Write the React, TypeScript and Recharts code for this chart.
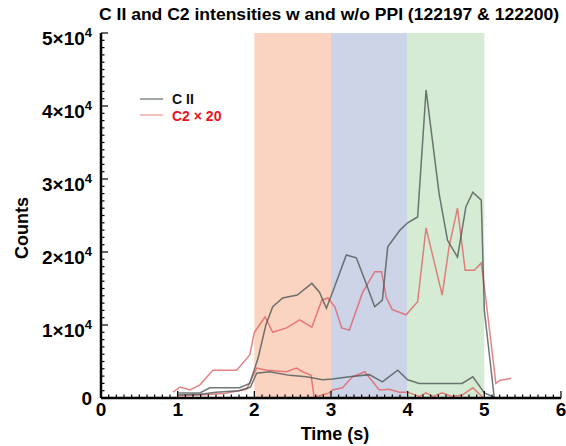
import React from 'react';
import { LineChart, Line, XAxis, YAxis, ReferenceArea, Customized } from 'recharts';

// ---- Data ----
const CII_A_T = [1.0, 1.29, 1.42, 1.81, 1.94, 2.05, 2.15, 2.24, 2.37, 2.56, 2.75, 2.85, 2.94, 3.02, 3.2, 3.33, 3.44, 3.57, 3.67, 3.74, 3.9, 4.0, 4.13, 4.24, 4.41, 4.52, 4.65, 4.76, 4.85, 4.96, 5.0, 5.13];
const CII_A_V = [700, 700, 1400, 1400, 2000, 5500, 10000, 12500, 13700, 14100, 15700, 14500, 12300, 14500, 19600, 19200, 16200, 12500, 13400, 20700, 23000, 24000, 24800, 42200, 28000, 21600, 19300, 26200, 28200, 27100, 12000, 0];

const CII_B_T = [1.0, 1.3, 1.5, 1.8, 1.95, 2.03, 2.2, 2.46, 2.68, 2.89, 3.02, 3.24, 3.5, 3.67, 3.87, 4.0, 4.15, 4.41, 4.71, 4.85, 5.0, 5.15];
const CII_B_V = [400, 500, 800, 1000, 1500, 3400, 3600, 3100, 2900, 2500, 2600, 2900, 3200, 2200, 3800, 2500, 2000, 2000, 2000, 2900, 700, 0];

const C2_A_T = [0.94, 1.03, 1.16, 1.29, 1.46, 1.77, 1.94, 2.0, 2.14, 2.24, 2.42, 2.59, 2.75, 2.88, 2.96, 3.05, 3.14, 3.24, 3.41, 3.57, 3.66, 3.72, 3.8, 3.98, 4.13, 4.24, 4.45, 4.54, 4.65, 4.75, 4.87, 4.96, 5.01, 5.15, 5.2, 5.35];
const C2_A_V = [800, 1500, 1100, 1800, 3800, 3800, 5900, 9000, 11100, 9000, 9600, 10700, 9700, 13400, 13700, 12500, 9600, 9300, 14400, 17300, 17300, 13800, 12100, 11400, 13200, 23300, 14100, 20700, 26000, 17500, 17500, 18500, 14400, 2000, 2400, 2700];

const C2_B_T = [1.0, 1.3, 1.6, 1.9, 2.03, 2.16, 2.42, 2.55, 2.63, 2.74, 2.78, 2.98, 3.02, 3.15, 3.28, 3.44, 3.63, 3.76, 3.89, 4.0, 4.15, 4.24, 4.33, 4.45, 4.58, 4.71, 4.85, 4.98];
const C2_B_V = [300, 400, 600, 1200, 4100, 3800, 3600, 4100, 3600, 3100, 100, 700, 1100, 1400, 2900, 3600, 1100, 1200, 800, 800, 200, 700, 200, 700, 200, 400, 1400, 100];

const X_MAJOR = [0, 1, 2, 3, 4, 5, 6];
const Y_MAJOR = [0, 10000, 20000, 30000, 40000, 50000];
const Y_LABEL_MANTISSA = ['0', '1', '2', '3', '4', '5'];
const PHASES = [
  { x1: 2, x2: 3, fill: '#fbd3c1' },
  { x1: 3, x2: 4, fill: '#cdd4e7' },
  { x1: 4, x2: 5, fill: '#d6ebd4' },
];

const TITLE = 'C II and C2 intensities w and w/o PPI (122197 & 122200)';

// ---- helpers ----
const zip = (t: number[], v: number[]) => t.map((tt, i) => ({ t: tt, v: v[i] }));
const X_TICKS: number[] = [];
for (let i = 0; i <= 60; i++) X_TICKS.push(i / 10);
const Y_TICKS: number[] = [];
for (let i = 0; i <= 50; i++) Y_TICKS.push(i * 1000);

const FONT = "'Liberation Sans Narrow', 'Arial Narrow', 'Liberation Sans', Arial, sans-serif";
const GRAY = '#4d5555';
const RED = '#e05a5c';

const isMajorX = (v: number) => X_MAJOR.some((m) => Math.abs(m - v) < 1e-6);
const isMajorY = (v: number) => Y_MAJOR.indexOf(v) >= 0;

const BottomTick = (props: any) => {
  const { x, y, payload } = props;
  const major = isMajorX(payload.value);
  return (
    <g>
      <line x1={x} x2={x} y1={y} y2={y - (major ? 7 : 3.5)} stroke="#000" strokeWidth={1.2} />
      {major && (
        <text x={x} y={y + 18} textAnchor="middle" fontFamily={FONT} fontWeight="bold" fontSize={19} fill="#000">
          {Math.round(payload.value)}
        </text>
      )}
    </g>
  );
};

const TopTick = (props: any) => {
  const { x, y, payload } = props;
  const major = isMajorX(payload.value);
  return <line x1={x} x2={x} y1={y} y2={y + (major ? 7 : 3.5)} stroke="#000" strokeWidth={1.2} />;
};

const LeftTick = (props: any) => {
  const { x, y, payload } = props;
  const major = isMajorY(payload.value);
  const idx = Y_MAJOR.indexOf(payload.value);
  return (
    <g>
      <line x1={x} x2={x + (major ? 7 : 3.5)} y1={y} y2={y} stroke="#000" strokeWidth={1.2} />
      {major && idx === 0 && (
        <text x={x - 9} y={y + 7} textAnchor="end" fontFamily={FONT} fontWeight="bold" fontSize={19} fill="#000">0</text>
      )}
      {major && idx > 0 && (
        <text x={x - 9} y={y + 12} textAnchor="end" fontFamily={FONT} fontWeight="bold" fontSize={19} fill="#000">
          {Y_LABEL_MANTISSA[idx]}×10
          <tspan dy={-8} fontSize={13}>4</tspan>
        </text>
      )}
    </g>
  );
};

const RightTick = (props: any) => {
  const { x, y, payload } = props;
  const major = isMajorY(payload.value);
  return <line x1={x} x2={x - (major ? 7 : 3.5)} y1={y} y2={y} stroke="#000" strokeWidth={1.2} />;
};

const Decorations = () => (
  <g>
    <text x={329} y={20} textAnchor="middle" fontFamily={FONT} fontWeight="bold" fontSize={17} fill="#000" textLength={460} lengthAdjust="spacingAndGlyphs">
      {TITLE}
    </text>
    <text x={335} y={440} textAnchor="middle" fontFamily={FONT} fontWeight="bold" fontSize={18} fill="#000">Time (s)</text>
    <text x={28} y={228} textAnchor="middle" fontFamily={FONT} fontWeight="bold" fontSize={18} fill="#000" transform="rotate(-90 28 228)">Counts</text>
    <line x1={140} x2={163} y1={99} y2={99} stroke={GRAY} strokeOpacity={0.7} strokeWidth={1.5} />
    <text x={172} y={104} fontFamily={FONT} fontWeight="bold" fontSize={14} fill="#111">C II</text>
    <line x1={140} x2={163} y1={115} y2={115} stroke={RED} strokeOpacity={0.5} strokeWidth={1.5} />
    <text x={172} y={121} fontFamily={FONT} fontWeight="bold" fontSize={14} fill="#e8141c">C2 × 20</text>
  </g>
);

export default function App() {
  const axisLine = { stroke: '#000', strokeWidth: 2.5 };
  return (
    <div style={{ position: 'absolute', left: 0, top: 0, background: '#fff' }}>
      <LineChart width={566} height={446} margin={{ top: 33, right: 5, bottom: 0, left: 0 }}>
        <XAxis xAxisId="b" dataKey="t" type="number" domain={[0, 6]} ticks={X_TICKS} interval={0} height={48}
          axisLine={axisLine} tickLine={false} tickSize={0} tickMargin={0} tick={<BottomTick />} allowDataOverflow />
        <XAxis xAxisId="t" orientation="top" type="number" domain={[0, 6]} ticks={X_TICKS} interval={0} height={0}
          axisLine={axisLine} tickLine={false} tickSize={0} tickMargin={0} tick={<TopTick />} allowDataOverflow />
        <YAxis yAxisId="l" type="number" domain={[0, 50000]} ticks={Y_TICKS} interval={0} width={101}
          axisLine={axisLine} tickLine={false} tickSize={0} tickMargin={0} tick={<LeftTick />} allowDataOverflow />
        <YAxis yAxisId="r" orientation="right" type="number" domain={[0, 50000]} ticks={Y_TICKS} interval={0} width={0}
          axisLine={axisLine} tickLine={false} tickSize={0} tickMargin={0} tick={<RightTick />} allowDataOverflow />
        {PHASES.map((p) => (
          <ReferenceArea key={p.x1} xAxisId="b" yAxisId="l" x1={p.x1} x2={p.x2} y1={0} y2={50000}
            fill={p.fill} fillOpacity={1} stroke="none" ifOverflow="hidden" />
        ))}
        <Line xAxisId="b" yAxisId="l" data={zip(C2_A_T, C2_A_V)} dataKey="v" type="linear" stroke={RED} strokeOpacity={0.75} strokeWidth={1.5} dot={false} isAnimationActive={false} />
        <Line xAxisId="b" yAxisId="l" data={zip(C2_B_T, C2_B_V)} dataKey="v" type="linear" stroke={RED} strokeOpacity={0.75} strokeWidth={1.5} dot={false} isAnimationActive={false} />
        <Line xAxisId="b" yAxisId="l" data={zip(CII_A_T, CII_A_V)} dataKey="v" type="linear" stroke={GRAY} strokeOpacity={0.8} strokeWidth={1.5} dot={false} isAnimationActive={false} />
        <Line xAxisId="b" yAxisId="l" data={zip(CII_B_T, CII_B_V)} dataKey="v" type="linear" stroke={GRAY} strokeOpacity={0.8} strokeWidth={1.5} dot={false} isAnimationActive={false} />
        <Customized component={<Decorations />} />
      </LineChart>
    </div>
  );
}
